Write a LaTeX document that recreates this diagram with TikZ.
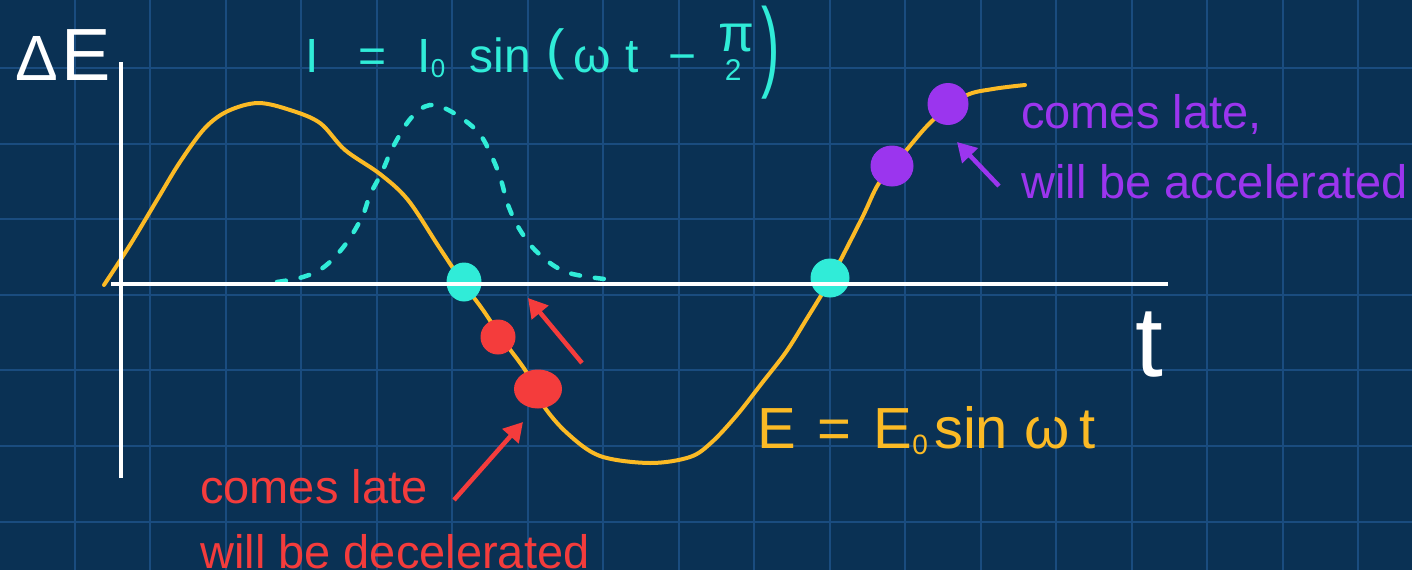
\documentclass[tikz,border=0pt]{standalone}
\usepackage{fontspec}
\setmainfont{Liberation Sans}
\usepackage{graphicx}
\usetikzlibrary{arrows.meta,shapes.geometric}
\definecolor{bgc}{HTML}{0A3154}
\definecolor{gridc}{HTML}{1A4C7F}
\definecolor{ecol}{HTML}{FBBA25}
\definecolor{icol}{HTML}{30ECD8}
\definecolor{rcol}{HTML}{F43C3C}
\definecolor{pcol}{HTML}{9B35EE}
\begin{document}
\begin{tikzpicture}[x=1pt,y=-1pt,
  gridline/.style={draw=gridc,line width=2pt},
  axisline/.style={draw=white,line width=3.5pt},
  ecurve/.style={draw=ecol,line width=4pt,line cap=round,line join=round},
  icurve/.style={draw=icol,line width=4.5pt,line cap=round,dash pattern=on 9pt off 15pt},
  blob/.style={ellipse,inner sep=0pt,draw,line width=1pt},
  dotc/.style={blob,fill=icol,draw=icol},
  dotr/.style={blob,fill=rcol,draw=rcol},
  dotp/.style={blob,fill=pcol,draw=pcol},
  arr/.style={line width=4.5pt,-{Triangle[length=19pt,width=21pt]}},
  lbl/.style={inner sep=0pt,anchor=base west,font=\fontsize{47}{47}\selectfont},
  hand/.style={inner sep=0pt,anchor=base west,text=white}
]
\useasboundingbox (0,0) rectangle (1412,570);
\fill[bgc] (0,0) rectangle (1412,570);
\foreach \i in {0,...,18} \draw[gridline] ({-1+75.5*\i},0) -- ({-1+75.5*\i},570);
\foreach \j in {0,...,6} \draw[gridline] (0,{68+75.6*\j}) -- (1412,{68+75.6*\j});

% current (dashed)
\draw[icurve] plot[smooth,tension=0.6] coordinates {(277,282) (303,277) (324,267) (345,245) (362,217) (370,195) (382,172) (393,147) (411,118) (430,105) (452,112) (478,132) (492,157) (501,180) (508,205) (520,230) (538,253) (566,272) (605,279)};

% field (yellow)
\draw[ecurve] plot[smooth,tension=0.55] coordinates {(104,285) (130,245) (157,200) (180,162) (205,128) (228,111) (258,103) (290,110) (320,123) (345,150) (380,174) (408,200) (439,247) (463,283) (483,310) (503,340) (527,373) (543,405) (567,433) (600,456) (650,463) (690,457) (712,442) (737,415) (762,383) (786,352) (806,320) (830,280) (862,218) (879,183) (904,153) (932,121) (965,96) (993,89) (1025,85)};

% dots
\node[dotc,minimum width=34pt,minimum height=38pt] (c1) at (464,282) {};
\node[dotc,minimum width=38pt,minimum height=38pt] (c2) at (830,278) {};
\node[dotr,minimum width=34pt,minimum height=34pt] (r1) at (498,337) {};
\node[dotr,minimum width=47pt,minimum height=38pt] (r2) at (538,389) {};
\node[dotp,minimum width=40pt,minimum height=41pt] (p1) at (948,104) {};
\node[dotp,minimum width=42pt,minimum height=40pt] (p2) at (892,166) {};

% axes
\coordinate (ytop) at (121,62);
\coordinate (ybot) at (121,478);
\coordinate (xl) at (111,284);
\coordinate (xr) at (1168,284);
\draw[axisline] (ybot) -- (ytop);
\draw[axisline] (xl) -- (xr);

% axis labels
\node[hand] (dE) at (15,80) {{\fontsize{64}{64}\selectfont Δ}\hspace{4pt}{\fontsize{74}{74}\selectfont E}};
\node[hand] (tlab) at (1135,376) {\fontsize{100}{100}\selectfont t};

% equations
\node[hand,text=icol,font=\fontsize{48}{48}\selectfont] (ieq) at (305,72)
  {I\hspace{40pt}=\hspace{31pt}I\raisebox{-5pt}{\fontsize{26}{26}\selectfont 0}\hspace{24pt}sin\hspace{16pt}\raisebox{4pt}{\fontsize{55}{55}\selectfont (}\hspace{8pt}ω\hspace{15pt}t\hspace{30pt}−\hspace{22pt}\rlap{\raisebox{21pt}{\fontsize{52}{52}\selectfont π}}\hspace{6pt}\raisebox{-8pt}{\fontsize{30}{30}\selectfont 2}\hspace{20pt}\raisebox{-6pt}{\scalebox{0.55}[1]{\fontsize{100}{100}\selectfont )}}};
\node[hand,text=ecol,font=\fontsize{58}{58}\selectfont] (eeq) at (757,448)
  {E\hspace{22pt}=\hspace{22pt}E\raisebox{-6pt}{\fontsize{28}{28}\selectfont 0}\hspace{6pt}sin\hspace{16pt}ω\hspace{10pt}t};

% arrows
\coordinate (ra1s) at (582,363);
\coordinate (ra1e) at (528,298);
\coordinate (ra2s) at (454,500);
\coordinate (ra2e) at (523,422);
\coordinate (pas) at (999,186);
\coordinate (pae) at (957,142);
\draw[arr,rcol] (ra1s) -- (ra1e);
\draw[arr,rcol] (ra2s) -- (ra2e);
\draw[arr,pcol] (pas) -- (pae);

% labels
\node[lbl,text=rcol] (rl1) at (200,503) {comes late};
\node[lbl,text=rcol] (rl2) at (200,568) {will be decelerated};
\node[lbl,text=pcol] (pl1) at (1021,128) {comes late,};
\node[lbl,text=pcol] (pl2) at (1021,198) {will be accelerated};
\end{tikzpicture}
\end{document}
